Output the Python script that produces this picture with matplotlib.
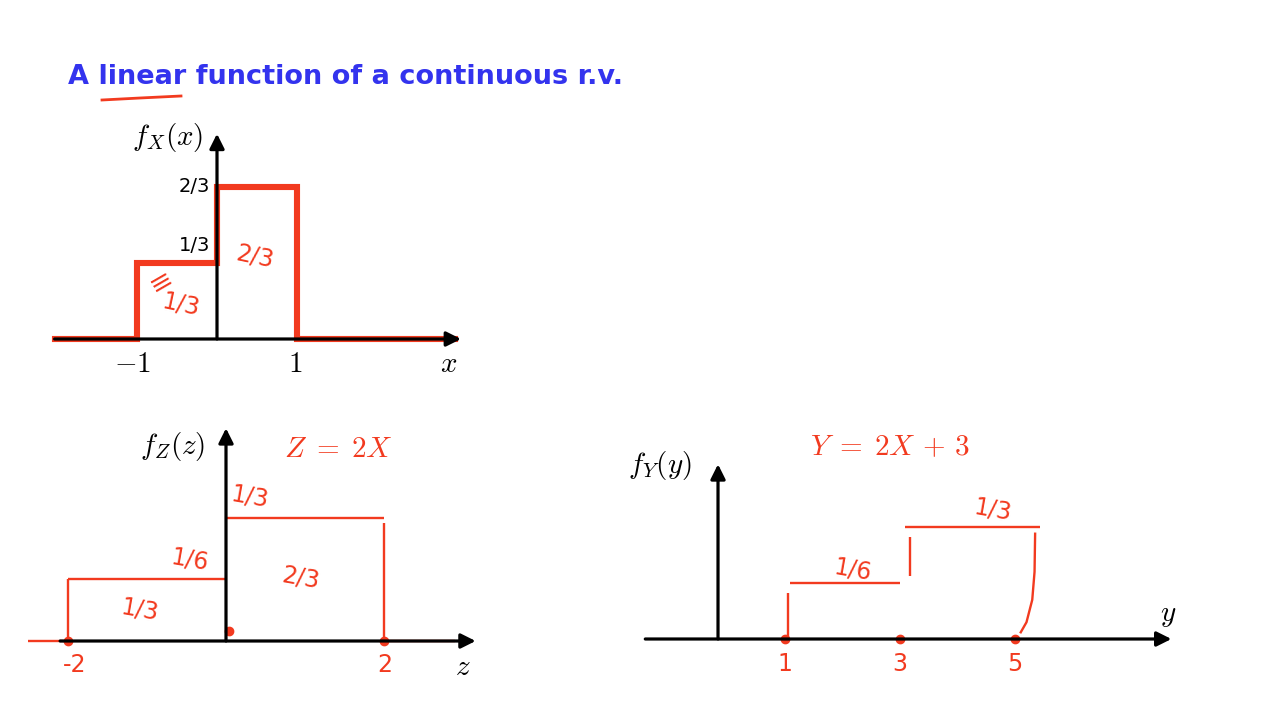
import numpy as np
import matplotlib
matplotlib.use("Agg")
import matplotlib.pyplot as plt
from matplotlib.lines import Line2D

plt.rcParams['mathtext.fontset'] = 'cm'
plt.rcParams['font.family'] = ['DejaVu Sans']

#---------- data ------------------------------------------
title = "A linear function of a continuous r.v."

x_edges = [-1, 0, 1]
fx = [1/3, 2/3]
fx_ticks = ["2/3", "1/3"]

z_edges = [-2, 0, 2]
fz = [1/6, 1/3]
z_labels = ["-2", "2"]
z_area = ["1/3", "2/3"]

y_edges = [1, 3, 5]
fy = [1/6, 1/3]
y_labels = ["1", "3", "5"]

#---------- style -----------------------------------------
W, H = 1280, 720
RED = '#f23a1f'
BLUE = '#3333ee'
HAND = dict(color=RED, fontsize=17, family='DejaVu Sans')
MATH = 21

fig = plt.figure(figsize=(12.8, 7.2), dpi=100)


def panel(left, right, top, bottom, ox, oy, sx, sy):
    # box in pixels, origin (ox, oy) in pixels, sx/sy pixels per unit
    ax = fig.add_axes([left/W, 1-bottom/H, (right-left)/W, (bottom-top)/H])
    ax.set_xlim((left-ox)/sx, (right-ox)/sx)
    ax.set_ylim((oy-bottom)/sy, (oy-top)/sy)
    ax.axis('off')
    return ax


def arrow(ax, start, tip, lw=2.3):
    ax.annotate('', xy=tip, xytext=start,
                arrowprops=dict(arrowstyle='-|>', lw=lw, color='k',
                                mutation_scale=22, shrinkA=0, shrinkB=0))


def step_xy(edges, dens, lo, hi):
    xs = [lo] + list(np.repeat(edges, 2)) + [hi]
    ys = [0, 0]
    for d in dens:
        ys += [d, d]
    ys += [0, 0]
    return xs, ys


#---------- title ------------------------------------------
fig.text(68/W, 1-77/H, title, color=BLUE, fontsize=19.5, fontweight='bold',
         va='center', ha='left')
fig.add_artist(Line2D([102/W, 140/W, 181/W], [1-100/H, 1-98/H, 1-96/H],
                      color=RED, lw=2))

#---------- f_X --------------------------------------------
ax = panel(20, 480, 110, 390, 217, 339, 80, 228)
arrow(ax, (-2.03, 0), (3.05, 0))
arrow(ax, (0, 0), (0, 0.9))
xs, ys = step_xy(x_edges, fx, -2.03, 2.98)
ax.plot(xs, ys, color=RED, lw=4.4, solid_joinstyle='miter')
ax.text(-0.62, 0.885, r'$f_X(x)$', fontsize=MATH, ha='center', va='center')
for d, lab in zip(fx[::-1], fx_ticks):
    off = 0.0 if d > 0.5 else 0.075
    ax.text(-0.09, d + off, lab, fontsize=14, ha='right', va='center')
ax.text(-1.05, -0.11, r'$-1$', fontsize=MATH, ha='center', va='center')
ax.text(0.975, -0.11, r'$1$', fontsize=MATH, ha='center', va='center')
ax.text(2.9, -0.11, r'$x$', fontsize=MATH, ha='center', va='center')
ax.text(0.47, 0.36, '2/3', rotation=-12, ha='center', va='center', **HAND)
ax.text(-0.45, 0.15, '1/3', rotation=-12, ha='center', va='center', **HAND)
ax.text(-0.7, 0.25, '\u2261', rotation=30, ha='center', va='center',
        color=RED, fontsize=20)

#---------- f_Z --------------------------------------------
ax = panel(10, 490, 415, 700, 226, 641, 79, 370)
arrow(ax, (-2.1, 0), (3.16, 0))
arrow(ax, (0, 0), (0, 0.575))
ax.hlines(0, -2.5, z_edges[0], color=RED, lw=1.7)
ax.hlines(0, z_edges[-1], 2.9, color=RED, lw=1.7)
ax.hlines(fz, z_edges[:-1], z_edges[1:], color=RED, lw=1.7)
ax.vlines(z_edges[0], 0.01, fz[0], color=RED, lw=1.7)
ax.vlines(z_edges[-1], 0, fz[-1] - 0.015, color=RED, lw=1.7)
ax.plot([z_edges[0], z_edges[-1], 0.04], [0, 0, 0.027], 'o', color=RED, ms=6)
ax.text(-0.68, 0.525, r'$f_Z(z)$', fontsize=MATH, ha='center', va='center')
ax.text(1.42, 0.52, r'$Z \;=\; 2X$', fontsize=MATH, ha='center', va='center',
        color=RED)
ax.text(3.0, -0.07, r'$z$', fontsize=MATH, ha='center', va='center')
ax.text(-1.91, -0.065, z_labels[0], ha='center', va='center', **HAND)
ax.text(2.01, -0.065, z_labels[1], ha='center', va='center', **HAND)
ax.text(0.3, 0.39, '1/3', rotation=-10, ha='center', va='center', **HAND)
ax.text(-0.46, 0.22, '1/6', rotation=-10, ha='center', va='center', **HAND)
ax.text(0.94, 0.17, z_area[1], rotation=-10, ha='center', va='center', **HAND)
ax.text(-1.09, 0.085, z_area[0], rotation=-10, ha='center', va='center', **HAND)

#---------- f_Y --------------------------------------------
ax = panel(630, 1190, 420, 700, 727.5, 639, 57.5, 336)
arrow(ax, (-1.43, 0), (7.72, 0))
arrow(ax, (-0.165, 0), (-0.165, 0.52))
ax.hlines(fy, [e + 0.08 for e in y_edges[:-1]], [y_edges[1], y_edges[2] + 0.43],
          color=RED, lw=1.7)
ax.vlines(y_edges[0] + 0.05, 0, fy[0] - 0.03, color=RED, lw=1.7)
ax.vlines(y_edges[1] + 0.18, fy[0] + 0.02, fy[1] - 0.03, color=RED, lw=1.7)
ax.plot([y_edges[2] + 0.35, y_edges[2] + 0.34, y_edges[2] + 0.3,
         y_edges[2] + 0.2, y_edges[2] + 0.1],
        [fy[1] - 0.02, fy[1] * 0.6, fy[1] * 0.35, fy[1] * 0.15, 0.02],
        color=RED, lw=1.7)
ax.plot(y_edges, [0]*len(y_edges), 'o', color=RED, ms=6)
ax.text(-1.17, 0.515, r'$f_Y(y)$', fontsize=MATH, ha='center', va='center')
ax.text(2.83, 0.57, r'$Y \;=\; 2X \,+\, 3$', fontsize=MATH, ha='center',
        va='center', color=RED)
ax.text(7.66, 0.07, r'$y$', fontsize=MATH, ha='center', va='center')
for e, lab in zip(y_edges, y_labels):
    ax.text(e, -0.075, lab, ha='center', va='center', **HAND)
ax.text(2.18, 0.205, '1/6', rotation=-10, ha='center', va='center', **HAND)
ax.text(4.62, 0.385, '1/3', rotation=-10, ha='center', va='center', **HAND)

plt.savefig("out.png", dpi=100)
